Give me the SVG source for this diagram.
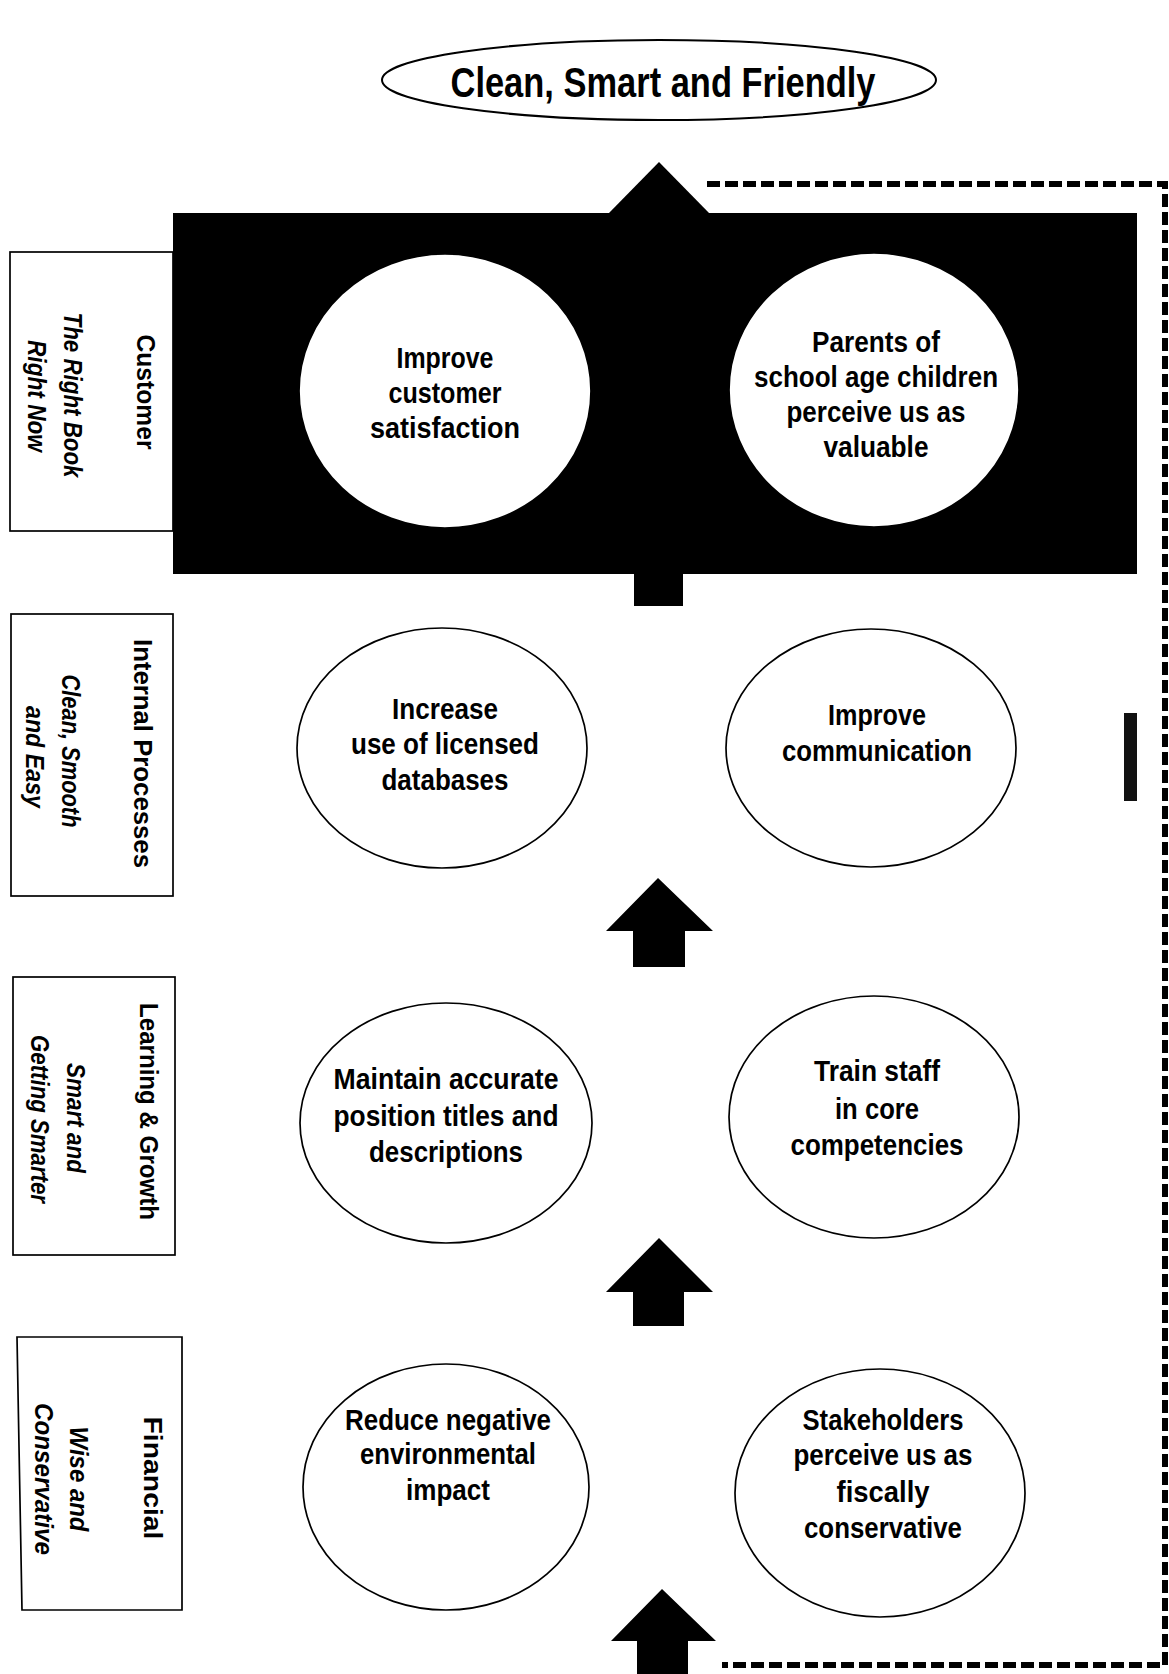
<svg xmlns="http://www.w3.org/2000/svg" width="1169" height="1674" viewBox="0 0 1169 1674">
<style>
  text { font-family: "Liberation Sans", Arial, sans-serif; font-weight: bold; fill: #000; }
  .t { font-size: 30px; text-anchor: middle; }
  .title { font-size: 43px; text-anchor: middle; }
  .lab { font-size: 25px; text-anchor: middle; }
  .sub { font-size: 25px; text-anchor: middle; font-style: italic; }
  .node { fill: #fff; stroke: #000; stroke-width: 1.7; }
  .box { fill: #fff; stroke: #000; stroke-width: 1.7; }
  .arrow { fill: #000; }
  .frame { fill: none; stroke: #000; stroke-width: 6; stroke-dasharray: 13 5; }
</style>
<rect width="1169" height="1674" fill="#fff"/>

<g id="frame">
  <path class="frame" d="M 707 184 H 1165 V 1665 H 722"/>
</g>

<g id="customer-band">
  <rect x="173" y="213" width="964" height="361" fill="#000"/>
  <rect x="1124" y="713" width="13" height="88" fill="#111"/>
</g>

<g id="title">
  <ellipse cx="659" cy="80" rx="277" ry="40" class="node" style="stroke-width:2"/>
  <text class="title" x="663" y="97" textLength="425" lengthAdjust="spacingAndGlyphs">Clean, Smart and Friendly</text>
</g>

<g id="connectors">
  <polygon class="arrow" points="659,162 710,214 608,214"/>
  <rect class="arrow" x="634" y="573" width="49" height="33"/>
  <polygon class="arrow" points="658,878 713,931 685,931 685,967 633,967 633,931 606,931"/>
  <polygon class="arrow" points="659,1238 713,1292 684,1292 684,1326 633,1326 633,1292 606,1292"/>
  <polygon class="arrow" points="662,1589 716,1641 688,1641 688,1674 637,1674 637,1641 611,1641"/>
</g>

<g id="label-customer">
  <rect class="box" x="10" y="252" width="163" height="279"/>
  <text class="lab" transform="translate(137,392) rotate(90)" textLength="115" lengthAdjust="spacingAndGlyphs">Customer</text>
  <text class="sub" transform="translate(64,395) rotate(90)" textLength="165" lengthAdjust="spacingAndGlyphs">The Right Book</text>
  <text class="sub" transform="translate(28,396) rotate(90)" textLength="112" lengthAdjust="spacingAndGlyphs">Right Now</text>
</g>

<g id="label-internal">
  <rect class="box" x="11" y="614" width="162" height="282"/>
  <text class="lab" transform="translate(134,753.5) rotate(90)" textLength="229" lengthAdjust="spacingAndGlyphs">Internal Processes</text>
  <text class="sub" transform="translate(62,751) rotate(90)" textLength="153" lengthAdjust="spacingAndGlyphs">Clean, Smooth</text>
  <text class="sub" transform="translate(26,757) rotate(90)" textLength="102" lengthAdjust="spacingAndGlyphs">and Easy</text>
</g>

<g id="label-learning">
  <rect class="box" x="13" y="977" width="162" height="278"/>
  <text class="lab" transform="translate(140,1111.5) rotate(90)" textLength="217" lengthAdjust="spacingAndGlyphs">Learning &amp; Growth</text>
  <text class="sub" transform="translate(67,1118) rotate(90)" textLength="110" lengthAdjust="spacingAndGlyphs">Smart and</text>
  <text class="sub" transform="translate(31,1119) rotate(90)" textLength="168" lengthAdjust="spacingAndGlyphs">Getting Smarter</text>
</g>

<g id="label-financial">
  <path class="box" d="M 17 1337 H 182 V 1610 H 22 Z"/>
  <text class="lab" transform="translate(144,1478) rotate(90)" textLength="123" lengthAdjust="spacingAndGlyphs">Financial</text>
  <text class="sub" transform="translate(70,1479) rotate(90)" textLength="105" lengthAdjust="spacingAndGlyphs">Wise and</text>
  <text class="sub" transform="translate(35,1479) rotate(90)" textLength="152" lengthAdjust="spacingAndGlyphs">Conservative</text>
</g>

<g id="node-improve-customer-satisfaction">
  <ellipse class="node" cx="445" cy="391" rx="146" ry="137"/>
  <text class="t" x="445" y="368" textLength="97" lengthAdjust="spacingAndGlyphs">Improve</text>
  <text class="t" x="445" y="403" textLength="113" lengthAdjust="spacingAndGlyphs">customer</text>
  <text class="t" x="445" y="437.5" textLength="150" lengthAdjust="spacingAndGlyphs">satisfaction</text>
</g>

<g id="node-parents">
  <ellipse class="node" cx="874" cy="390" rx="145" ry="137"/>
  <text class="t" x="876" y="352" textLength="128" lengthAdjust="spacingAndGlyphs">Parents of</text>
  <text class="t" x="876" y="387" textLength="244" lengthAdjust="spacingAndGlyphs">school age children</text>
  <text class="t" x="876" y="422" textLength="179" lengthAdjust="spacingAndGlyphs">perceive us as</text>
  <text class="t" x="876" y="456.5" textLength="105" lengthAdjust="spacingAndGlyphs">valuable</text>
</g>

<g id="node-licensed-databases">
  <ellipse class="node" cx="442" cy="748" rx="145" ry="120"/>
  <text class="t" x="445" y="719" textLength="106" lengthAdjust="spacingAndGlyphs">Increase</text>
  <text class="t" x="445" y="754" textLength="188" lengthAdjust="spacingAndGlyphs">use of licensed</text>
  <text class="t" x="445" y="789.5" textLength="127" lengthAdjust="spacingAndGlyphs">databases</text>
</g>

<g id="node-improve-communication">
  <ellipse class="node" cx="871" cy="748" rx="145" ry="119"/>
  <text class="t" x="877" y="724.5" textLength="98" lengthAdjust="spacingAndGlyphs">Improve</text>
  <text class="t" x="877" y="760.5" textLength="190" lengthAdjust="spacingAndGlyphs">communication</text>
</g>

<g id="node-position-titles">
  <ellipse class="node" cx="446" cy="1123" rx="146" ry="120"/>
  <text class="t" x="446" y="1088.5" textLength="225" lengthAdjust="spacingAndGlyphs">Maintain accurate</text>
  <text class="t" x="446" y="1125.5" textLength="225" lengthAdjust="spacingAndGlyphs">position titles and</text>
  <text class="t" x="446" y="1162" textLength="154" lengthAdjust="spacingAndGlyphs">descriptions</text>
</g>

<g id="node-train-staff">
  <ellipse class="node" cx="874" cy="1117" rx="145" ry="121"/>
  <text class="t" x="877" y="1081" textLength="126" lengthAdjust="spacingAndGlyphs">Train staff</text>
  <text class="t" x="877" y="1118.5" textLength="84" lengthAdjust="spacingAndGlyphs">in core</text>
  <text class="t" x="877" y="1154.5" textLength="173" lengthAdjust="spacingAndGlyphs">competencies</text>
</g>

<g id="node-environmental-impact">
  <ellipse class="node" cx="446" cy="1487" rx="143" ry="123"/>
  <text class="t" x="448" y="1430" textLength="206" lengthAdjust="spacingAndGlyphs">Reduce negative</text>
  <text class="t" x="448" y="1464" textLength="176" lengthAdjust="spacingAndGlyphs">environmental</text>
  <text class="t" x="448" y="1499.5" textLength="84" lengthAdjust="spacingAndGlyphs">impact</text>
</g>

<g id="node-stakeholders">
  <ellipse class="node" cx="880" cy="1493" rx="145" ry="124"/>
  <text class="t" x="883" y="1430" textLength="161" lengthAdjust="spacingAndGlyphs">Stakeholders</text>
  <text class="t" x="883" y="1465" textLength="179" lengthAdjust="spacingAndGlyphs">perceive us as</text>
  <text class="t" x="883" y="1501.5" textLength="93" lengthAdjust="spacingAndGlyphs">fiscally</text>
  <text class="t" x="883" y="1537.5" textLength="158" lengthAdjust="spacingAndGlyphs">conservative</text>
</g>
</svg>
